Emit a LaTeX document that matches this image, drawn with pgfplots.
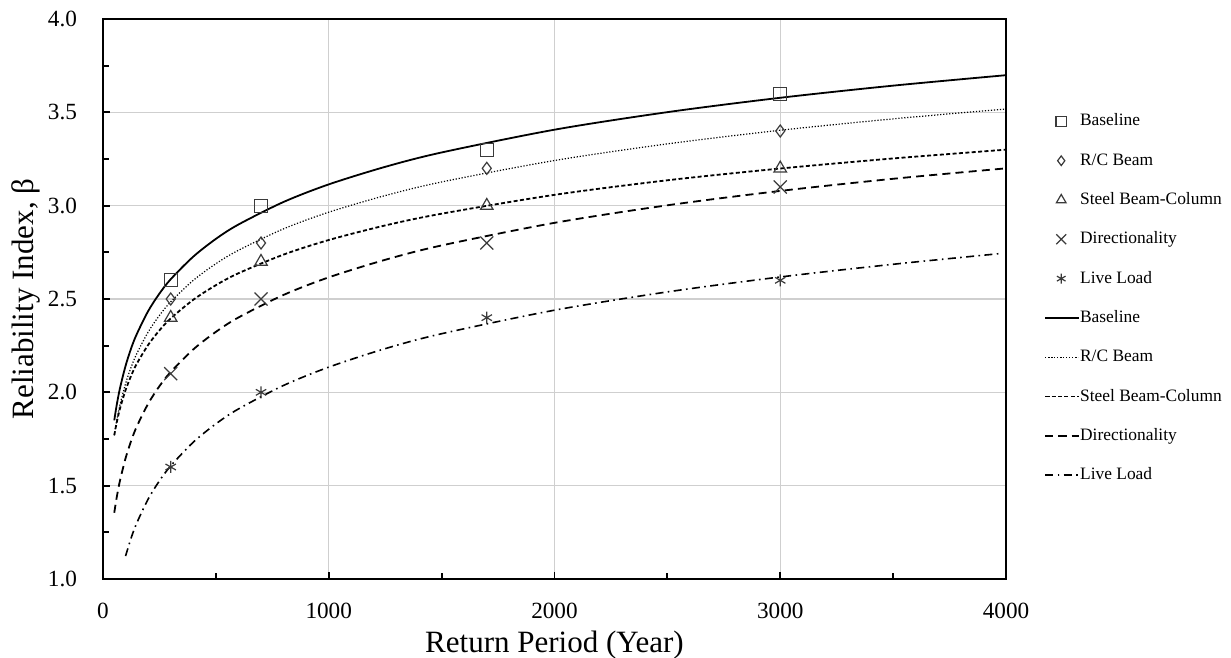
\documentclass[border=0pt]{standalone}
\usepackage{fontspec}
\setmainfont{Liberation Serif}
\usepackage{pgfplots}
\pgfplotsset{compat=1.18}
\definecolor{mk}{HTML}{3A3A3A}
\definecolor{gridc}{HTML}{CFCFCF}
\begin{document}
\begin{tikzpicture}
\path[use as bounding box] (-51.5pt,-39.5pt) rectangle (564pt,289.5pt);
\begin{axis}[
  at={(0pt,0pt)}, anchor=south west,
  scale only axis, width=451.5pt, height=280pt,
  xmin=0, xmax=4000, ymin=1, ymax=4,
  xtick={0,1000,2000,3000,4000},
  xticklabels={0,1000,2000,3000,4000},
  ytick={1,1.5,2,2.5,3,3.5,4},
  yticklabels={1.0,1.5,2.0,2.5,3.0,3.5,4.0},
  minor xtick={500,1500,2500,3500},
  minor ytick={1.25,1.75,2.25,2.75,3.25,3.75},
  tick pos=left, tick align=inside,
  major tick length=3.5pt, minor tick length=3pt,
  every tick/.style={black, line width=0.9pt},
  grid=major, major grid style={color=gridc, line width=0.7pt},
  axis line style={line width=1pt},
  ticklabel style={font=\fontsize{11.6}{13}\selectfont},
  xticklabel style={yshift=-8.5pt},
  yticklabel style={xshift=-9.5pt},
  xlabel={Return Period (Year)},
  ylabel={Reliability Index, β},
  every axis x label/.style={at={(axis description cs:0.5,-0.1304)}, anchor=base, font=\fontsize{15.5}{18}\selectfont},
  every axis y label/.style={at={(axis description cs:-0.0771,0.5)}, rotate=90, anchor=base, font=\fontsize{15.5}{18}\selectfont},
  legend style={draw=none, fill=none, inner sep=0pt, at={(1.042,0.833)}, anchor=north west,
    font=\fontsize{8.7}{10}\selectfont, row sep=11.15pt,
    nodes={inner sep=0.5pt, text height=6pt, text depth=1.5pt}},
  legend cell align=left,
  legend image code/.code={\draw[mark repeat=2,mark phase=2,#1] plot coordinates {(0pt,0pt) (8pt,0pt) (16.5pt,0pt)};},
  clip=true,
]
% markers
\addplot[only marks, mark=square, mark size=3.25pt, draw=mk, line width=0.6pt, mark options={solid},
  legend image post style={mark size=2.6pt}]
  coordinates {(300,2.6) (700,3.0) (1700,3.3) (3000,3.6)};
\addlegendentry{Baseline}
\addplot[only marks, mark=diamond, mark size=3pt, draw=mk, line width=0.6pt, mark options={solid},
  legend image post style={mark size=2.4pt}]
  coordinates {(300,2.5) (700,2.8) (1700,3.2) (3000,3.4)};
\addlegendentry{R/C Beam}
\addplot[only marks, mark=triangle, mark size=3.6pt, draw=mk, line width=0.6pt, mark options={solid},
  legend image post style={mark size=2.8pt}]
  coordinates {(300,2.4) (700,2.7) (1700,3.0) (3000,3.2)};
\addlegendentry{Steel Beam-Column}
\addplot[only marks, mark=x, mark size=4.6pt, draw=mk, line width=0.6pt, mark options={solid},
  legend image post style={mark size=3.5pt}]
  coordinates {(300,2.1) (700,2.5) (1700,2.8) (3000,3.1)};
\addlegendentry{Directionality}
\addplot[only marks, mark=asterisk, mark size=3pt, draw=mk, line width=0.6pt, mark options={solid},
  legend image post style={mark size=2.5pt}]
  coordinates {(300,1.6) (700,2.0) (1700,2.4) (3000,2.6)};
\addlegendentry{Live Load}
% fitted curves
\addplot[black, line width=0.9pt, smooth, no marks] coordinates {
(50,1.850)(60,1.927)(75,2.021)(100,2.142)(125,2.237)(150,2.313)(200,2.435)(250,2.529)(300,2.606)(400,2.727)(500,2.822)(600,2.899)(800,3.020)(1000,3.114)(1250,3.208)(1500,3.285)(2000,3.407)(2500,3.501)(3000,3.578)(3500,3.643)(4000,3.699)};
\addlegendentry{Baseline}
\addplot[black, line width=0.6pt, dash pattern=on 0.6pt off 0.9pt, smooth, no marks] coordinates {
(50,1.770)(60,1.843)(75,1.932)(100,2.047)(125,2.136)(150,2.208)(200,2.323)(250,2.412)(300,2.485)(400,2.600)(500,2.689)(600,2.761)(800,2.876)(1000,2.965)(1250,3.054)(1500,3.127)(2000,3.242)(2500,3.331)(3000,3.404)(3500,3.465)(4000,3.518)};
\addlegendentry{R/C Beam}
\addplot[black, line width=0.9pt, dash pattern=on 2pt off 1.2pt, smooth, no marks] coordinates {
(50,1.770)(60,1.834)(75,1.912)(100,2.012)(125,2.090)(150,2.154)(200,2.254)(250,2.332)(300,2.396)(400,2.496)(500,2.574)(600,2.638)(800,2.738)(1000,2.816)(1250,2.894)(1500,2.957)(2000,3.058)(2500,3.136)(3000,3.199)(3500,3.253)(4000,3.300)};
\addlegendentry{Steel Beam-Column}
\addplot[black, line width=0.9pt, dash pattern=on 4pt off 2.6pt, smooth, no marks] coordinates {
(50,1.355)(60,1.432)(75,1.526)(100,1.647)(125,1.741)(150,1.818)(200,1.939)(250,2.033)(300,2.109)(400,2.230)(500,2.324)(600,2.401)(800,2.522)(1000,2.616)(1250,2.710)(1500,2.787)(2000,2.908)(2500,3.002)(3000,3.079)(3500,3.144)(4000,3.200)};
\addlegendentry{Directionality}
\addplot[black, line width=0.8pt, dash pattern=on 4pt off 2.2pt on 0.8pt off 2.2pt, smooth, no marks] coordinates {
(100,1.123)(125,1.221)(150,1.301)(200,1.428)(250,1.526)(300,1.606)(400,1.733)(500,1.831)(600,1.911)(800,2.037)(1000,2.135)(1250,2.234)(1500,2.314)(2000,2.440)(2500,2.538)(3000,2.618)(3500,2.686)(3980,2.744)};
\addlegendentry{Live Load}
\end{axis}
\end{tikzpicture}
\end{document}
